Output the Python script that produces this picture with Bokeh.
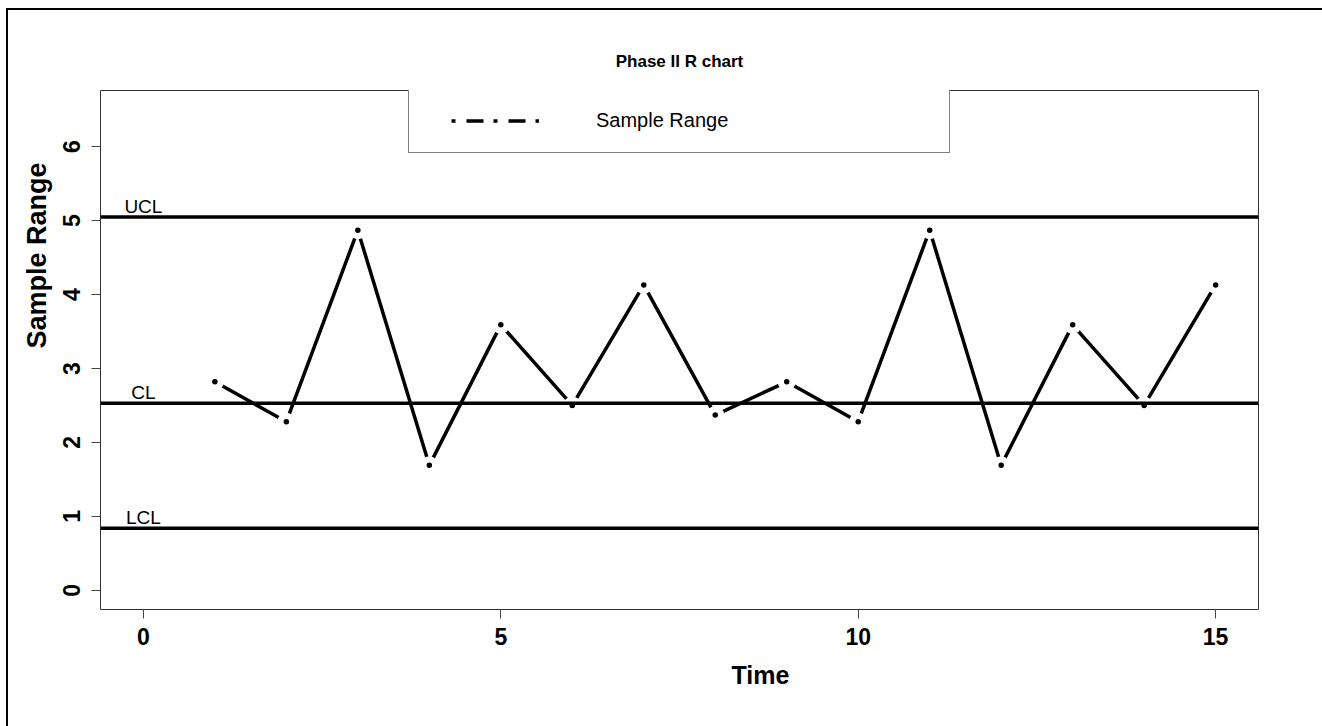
from bokeh.core.properties import value
from bokeh.embed import file_html
from bokeh.models import (ColumnDataSource, FixedTicker, Legend, LegendItem,
                          Range1d, Span, Title)
from bokeh.plotting import figure
from bokeh.resources import INLINE

try:
    from bokeh.models import GlobalInlineStyleSheet
except ImportError:
    GlobalInlineStyleSheet = None

# Phase II sample ranges by time
time = list(range(1, 16))
sample_range = [2.82, 2.28, 4.87, 1.69, 3.59, 2.50, 4.13, 2.37,
                2.82, 2.28, 4.87, 1.69, 3.59, 2.50, 4.13]

# Control limits
limit_names = ["UCL", "CL", "LCL"]
limit_values = [5.05, 2.53, 0.84]
limit_label_x = [0, 0, 0]

x_ticks = [0, 5, 10, 15]
y_ticks = [0, 1, 2, 3, 4, 5, 6]

FONT = "Liberation Sans"

p = figure(width=1322, height=726, output_backend="svg", toolbar_location=None,
           x_range=Range1d(-0.6, 15.6), y_range=Range1d(-0.26, 6.76),
           min_border_left=100, min_border_right=64,
           min_border_top=90, min_border_bottom=117,
           title="Phase II R chart")

# page frame along the top and left edges, painted behind a transparent border area
p.border_fill_color = None
p.styles = {
    "overflow": "hidden",
    "background-color": "white",
    "background-image": "linear-gradient(black, black), linear-gradient(black, black)",
    "background-position": "6px 8px, 6px 8px",
    "background-size": "2px 100%, 100% 2px",
    "background-repeat": "no-repeat",
}
if GlobalInlineStyleSheet is not None:
    p.stylesheets = [GlobalInlineStyleSheet(
        css="html, body { overflow: hidden; margin: 0; }")]

p.title.text_font = FONT
p.title.text_font_size = "17px"
p.title.text_font_style = "bold"
p.title.text_color = "black"
p.title.align = "center"
p.title.standoff = 39

p.xgrid.visible = False
p.ygrid.visible = False
p.outline_line_color = "#333333"
p.outline_line_width = 1
p.background_fill_color = "white"

for ax in (p.xaxis[0], p.yaxis[0]):
    ax.major_tick_out = 9
    ax.major_tick_in = 0
    ax.minor_tick_line_color = None
    ax.major_tick_line_color = "#444444"
    ax.axis_line_color = "#333333"
    ax.major_label_text_font = FONT
    ax.major_label_text_font_size = "23px"
    ax.major_label_text_font_style = "bold"
    ax.major_label_text_color = "black"

p.xaxis.ticker = FixedTicker(ticks=x_ticks)
p.xaxis.bounds = (x_ticks[0], x_ticks[-1])
p.xaxis.major_label_standoff = 9
p.yaxis.ticker = FixedTicker(ticks=y_ticks)
p.yaxis.bounds = (y_ticks[0], y_ticks[-1])
p.yaxis.major_label_orientation = "vertical"
p.yaxis.major_label_standoff = 11

# Series: line with gaps around each point, then the points
src = ColumnDataSource(dict(t=time, r=sample_range))
p.line("t", "r", source=src, line_color="black", line_width=3.5)
p.scatter("t", "r", source=src, size=18, fill_color="white", line_color=None)
p.scatter("t", "r", source=src, size=5.5, fill_color="black", line_color=None)

# Control limit lines and their labels
for v in limit_values:
    p.add_layout(Span(location=v, dimension="width", line_color="black",
                      line_width=3.5))
p.text(x=limit_label_x, y=limit_values, text=limit_names,
       text_font=value(FONT), text_font_size="19px", text_color="black",
       text_align="center", text_baseline="bottom")

# Legend with a dot-dash key (key renderer carries no drawable points)
nan = float("nan")
key = p.line(x=[nan, nan], y=[nan, nan], line_color="black", line_width=3.5,
             line_dash="0 22 4 11 17 10 4 11 17 10 4 100")
legend = Legend(items=[LegendItem(label="Sample Range", renderers=[key])],
                location=(308, 456), padding=20, margin=0,
                glyph_width=110, glyph_height=23, label_height=23,
                label_standoff=57, label_width=333,
                label_text_font=FONT, label_text_font_size="20px",
                label_text_color="black",
                border_line_color="black", border_line_width=1,
                background_fill_color="white", background_fill_alpha=1)
p.add_layout(legend)

# Axis titles
p.add_layout(Title(text="Time", align="left", offset=631, standoff=23,
                   text_font=FONT, text_font_size="25px",
                   text_font_style="bold", text_color="black"), "below")
p.add_layout(Title(text="Sample Range", align="left", offset=261, standoff=18,
                   text_font=FONT, text_font_size="27px",
                   text_font_style="bold", text_color="black"), "left")

open("out.html", "w").write(file_html(p, INLINE))
